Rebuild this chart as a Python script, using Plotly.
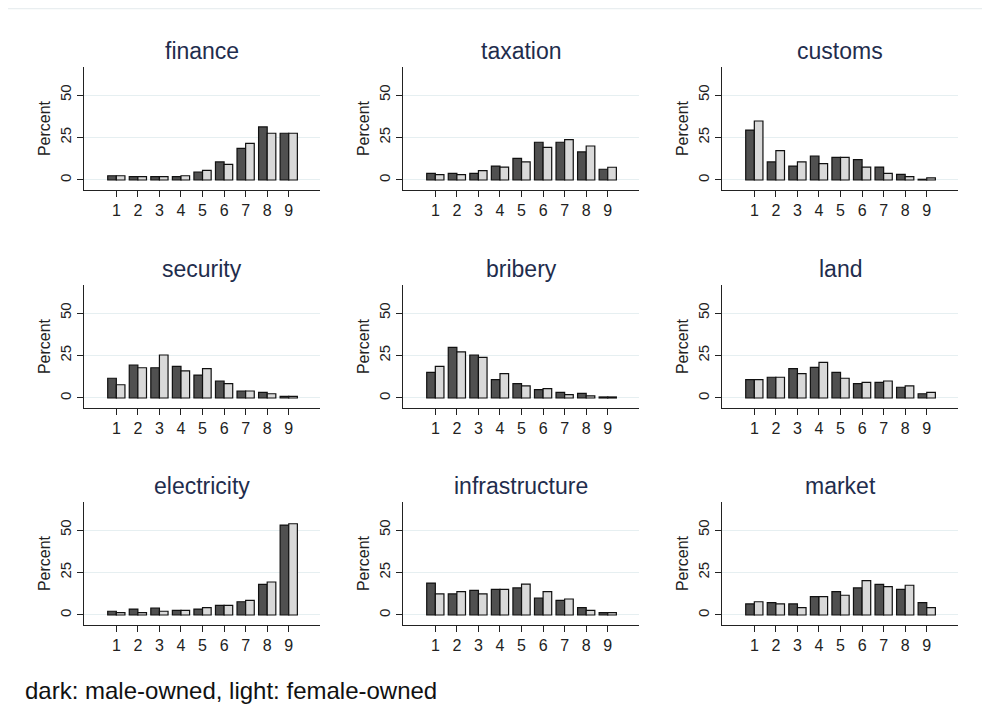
import plotly.graph_objects as go

categories = [1, 2, 3, 4, 5, 6, 7, 8, 9]
panels = ["finance", "taxation", "customs", "security", "bribery", "land",
          "electricity", "infrastructure", "market"]

male = {
    "finance":        [2.5, 2.0, 2.0, 2.0, 4.7, 10.6, 18.6, 31.2, 27.5],
    "taxation":       [3.9, 3.9, 3.9, 8.2, 12.7, 22.2, 22.2, 16.5, 6.3],
    "customs":        [29.4, 10.6, 8.2, 14.1, 13.3, 12.0, 7.6, 3.3, 0.4],
    "security":       [11.6, 19.4, 17.8, 18.6, 13.5, 10.0, 4.1, 3.3, 1.0],
    "bribery":        [15.1, 29.8, 25.3, 10.8, 8.4, 4.9, 3.3, 2.7, 0.6],
    "land":           [10.8, 12.2, 17.3, 18.0, 15.1, 8.4, 9.2, 6.3, 2.5],
    "electricity":    [2.2, 3.5, 4.1, 2.7, 3.5, 5.7, 7.8, 18.0, 52.9],
    "infrastructure": [18.8, 12.4, 14.5, 15.1, 15.9, 10.0, 8.6, 4.3, 1.4],
    "market":         [6.5, 7.3, 6.5, 10.8, 13.7, 15.9, 18.0, 15.1, 7.3],
}
female = {
    "finance":        [2.5, 2.0, 2.0, 2.5, 5.7, 9.2, 21.6, 27.5, 27.5],
    "taxation":       [3.1, 3.1, 5.5, 7.6, 10.6, 19.2, 23.7, 20.0, 7.5],
    "customs":        [34.7, 17.3, 10.6, 9.6, 13.3, 7.6, 3.9, 2.0, 1.2],
    "security":       [7.8, 17.8, 25.3, 15.9, 17.3, 8.4, 4.1, 2.5, 1.0],
    "bribery":        [18.6, 27.1, 23.9, 14.3, 7.1, 5.5, 2.0, 1.2, 0.6],
    "land":           [10.8, 12.2, 14.3, 21.0, 11.6, 9.2, 10.0, 7.1, 3.3],
    "electricity":    [1.4, 1.4, 2.2, 2.7, 4.3, 5.7, 8.6, 19.4, 53.7],
    "infrastructure": [12.4, 13.7, 12.4, 15.1, 18.2, 13.7, 9.4, 2.7, 1.4],
    "market":         [7.8, 6.5, 4.3, 10.8, 11.6, 20.2, 16.7, 17.5, 4.3],
}
y_ticks = [0, 25, 50]
caption = "dark: male-owned, light: female-owned"

W, H = 990, 720
OFF = 8  # page body margin compensation
col_px = [(84, 320), (403, 639), (722, 958)]
row_px = [(67, 190), (285, 408), (502, 625)]

FONT = "Liberation Sans, Arial, sans-serif"
TITLE_COLOR = "#1f2d4d"
DARK = "#505050"
LIGHT = "#d9d9d9"


def px_x(v):
    return (v - OFF) / W


def px_y(v):
    return 1 - (v - OFF) / H


fig = go.Figure()
layout = dict(
    width=W, height=H, margin=dict(l=0, r=0, t=0, b=0),
    paper_bgcolor="white", plot_bgcolor="white",
    showlegend=False, barmode="group", bargap=0.2, bargroupgap=0.0,
    font=dict(family=FONT, color="#222222"),
)
annotations = []

for i, name in enumerate(panels):
    r, c = divmod(i, 3)
    idx = i + 1
    xa = "x" if idx == 1 else f"x{idx}"
    ya = "y" if idx == 1 else f"y{idx}"
    fig.add_trace(go.Bar(x=categories, y=male[name], xaxis=xa, yaxis=ya,
                         marker=dict(color=DARK, line=dict(color="#111111", width=1.2)),
                         offsetgroup="m"))
    fig.add_trace(go.Bar(x=categories, y=female[name], xaxis=xa, yaxis=ya,
                         marker=dict(color=LIGHT, line=dict(color="#111111", width=1.2)),
                         offsetgroup="f"))
    x0, x1 = col_px[c]
    yt, yb = row_px[r]
    xkey = "xaxis" if idx == 1 else f"xaxis{idx}"
    ykey = "yaxis" if idx == 1 else f"yaxis{idx}"
    layout[xkey] = dict(
        domain=[px_x(x0), px_x(x1)], anchor=ya, range=[-0.5, 10.45],
        tickvals=categories, ticktext=[str(v) for v in categories],
        ticks="outside", ticklen=6, tickcolor="#222222",
        showline=True, linecolor="#222222", linewidth=1,
        showgrid=False, zeroline=False,
        tickfont=dict(size=16, color="#222222", family=FONT),
    )
    layout[ykey] = dict(
        domain=[px_y(yb), px_y(yt)], anchor=xa, range=[-5.9, 66.5],
        tickvals=y_ticks, ticks="outside", ticklen=6, tickcolor="#222222",
        tickangle=-90,
        showline=True, linecolor="#222222", linewidth=1,
        showgrid=True, gridcolor="#e6eff1", gridwidth=1, zeroline=False,
        tickfont=dict(size=15, color="#222222", family=FONT),
        title=dict(text="Percent", font=dict(size=16, color="#222222", family=FONT), standoff=2),
    )
    annotations.append(dict(
        text=name, x=(px_x(x0) + px_x(x1)) / 2, y=px_y(yt - 16),
        xref="paper", yref="paper", xanchor="center", yanchor="middle",
        showarrow=False, font=dict(size=23, color=TITLE_COLOR, family=FONT),
    ))

annotations.append(dict(
    text=caption, x=px_x(23), y=px_y(690), xref="paper", yref="paper",
    xanchor="left", yanchor="middle", showarrow=False,
    font=dict(size=24, color="#111111", family=FONT),
))
layout["annotations"] = annotations
layout["shapes"] = [dict(type="line", xref="paper", yref="paper",
                         x0=0, x1=1, y0=0.999, y1=0.999,
                         line=dict(color="#e3eaec", width=1))]
fig.update_layout(**layout)
fig.write_html("out.html")
